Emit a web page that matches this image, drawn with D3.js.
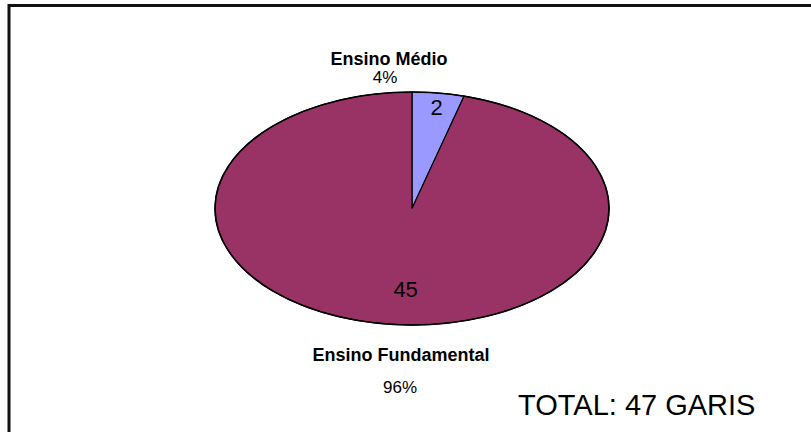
<!DOCTYPE html>
<html><head><meta charset="utf-8">
<script src="https://cdn.jsdelivr.net/npm/d3@7"></script>
<style>html,body{margin:0;padding:0;background:#fff;}svg{display:block;}</style>
</head><body>
<script>
const categories = ["Ensino Médio", "Ensino Fundamental"];
const values = [2, 45];
const percentLabels = ["4%", "96%"];
const colors = ["#9999FF", "#993366"];
const totalLabel = "TOTAL: 47 GARIS";

const W = 811, H = 432;
const svg = d3.select("body").append("svg").attr("width", W).attr("height", H);
svg.append("rect").attr("width", W).attr("height", H).attr("fill", "#fff");
// frame (only left & top visible)
svg.append("rect").attr("x", 9).attr("y", 5.5).attr("width", 1000).attr("height", 600)
  .attr("fill", "none").attr("stroke", "#111").attr("stroke-width", 3);

const cx = 412, cy = 208.5, rx = 197, ry = 116.5;
const k = ry / rx;
const data = categories.map((c, i) => ({cat: c, value: values[i], pct: percentLabels[i], color: colors[i]}));
const pie = d3.pie().sort(null).value(d => d.value);
const arcs = pie(data);
const arc = d3.arc().innerRadius(0).outerRadius(rx);

const g = svg.append("g").attr("transform", `translate(${cx},${cy}) scale(1,${k})`);
g.selectAll("path").data(arcs).join("path")
  .attr("d", arc)
  .attr("fill", d => d.data.color)
  .attr("stroke", "#000").attr("stroke-width", 1.2)
  .attr("vector-effect", "non-scaling-stroke");
g.append("ellipse").attr("rx", rx).attr("ry", rx).attr("fill", "none")
  .attr("stroke", "#000").attr("stroke-width", 1.6).attr("vector-effect", "non-scaling-stroke");

// value labels inside
const labelR = [0.885, 0.70];
const labelShift = [1.5, 12];
arcs.forEach((a, i) => {
  const la = d3.arc().innerRadius(rx * labelR[i]).outerRadius(rx * labelR[i]);
  const [x, y] = la.centroid(a);
  svg.append("text")
    .attr("x", cx + x + labelShift[i]).attr("y", cy + y * k + (i === 0 ? 1.5 : 0))
    .attr("text-anchor", "middle").attr("dominant-baseline", "central")
    .attr("font-family", "Liberation Sans, Arial, sans-serif").attr("font-size", 22)
    .attr("fill", "#000").text(a.data.value);
});

// category labels outside
const outPos = [
  {x: cx - 23, y: cy - ry - 27},
  {x: cx - 11, y: cy + ry + 36}
];
const pctGap = [18, 32];
arcs.forEach((a, i) => {
  svg.append("text")
    .attr("x", outPos[i].x).attr("y", outPos[i].y)
    .attr("text-anchor", "middle")
    .attr("font-family", "Liberation Sans, Arial, sans-serif").attr("font-size", 18)
    .attr("font-weight", "bold").attr("fill", "#000").text(a.data.cat);
  svg.append("text")
    .attr("x", outPos[i].x - (i === 0 ? 4 : 1)).attr("y", outPos[i].y + pctGap[i])
    .attr("text-anchor", "middle")
    .attr("font-family", "Liberation Sans, Arial, sans-serif").attr("font-size", 17)
    .attr("fill", "#000").text(a.data.pct);
});

svg.append("text").attr("x", 518).attr("y", 415)
  .attr("font-family", "Liberation Sans, Arial, sans-serif").attr("font-size", 29)
  .attr("fill", "#000").text(totalLabel);
</script>
</body></html>
